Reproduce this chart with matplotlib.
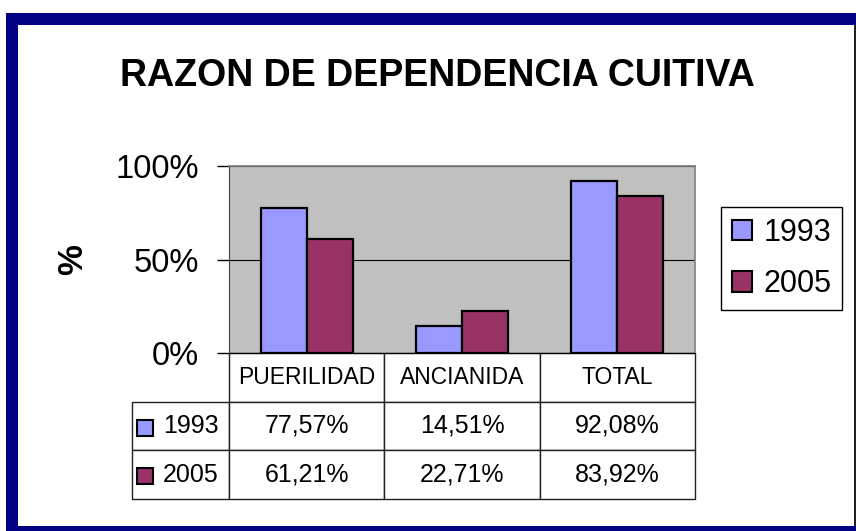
import matplotlib
matplotlib.use('Agg')
import matplotlib.pyplot as plt
from matplotlib.patches import Rectangle, Patch
import numpy as np

plt.rcParams['font.family'] = ['Liberation Sans', 'DejaVu Sans']

# data
categories = ['PUERILIDAD', 'ANCIANIDA', 'TOTAL']
years = ['1993', '2005']
values_1993 = [77.57, 14.51, 92.08]
values_2005 = [61.21, 22.71, 83.92]
y_ticks = [0, 50, 100]
y_tick_labels = ['0%', '50%', '100%']

colors = ['#9999FF', '#993366']
W, H = 856, 531

fig = plt.figure(figsize=(W / 100, H / 100), dpi=100)
fig.patch.set_facecolor('white')

def fx(px):
    return px / W

def fy(py):
    return 1 - py / H

# plot area in pixel coordinates
left, right, top, bottom = 229, 695, 166, 353
ax = fig.add_axes([fx(left), fy(bottom), fx(right - left), (bottom - top) / H])
ax.set_facecolor('#C0C0C0')

x = np.arange(len(categories))
bw = 0.296
ax.bar(x - bw / 2, values_1993, bw, color=colors[0], edgecolor='black', linewidth=1.6, zorder=3)
ax.bar(x + bw / 2, values_2005, bw, color=colors[1], edgecolor='black', linewidth=1.6, zorder=3)

ax.set_xlim(-0.5, len(categories) - 0.5)
ax.set_ylim(0, 100)
ax.set_yticks(y_ticks)
ax.set_yticklabels(y_tick_labels, fontsize=23.5)
ax.set_xticks([])
ax.tick_params(axis='y', length=8.6, width=1, pad=13, direction='out')
ax.yaxis.grid(True, color='black', linewidth=0.8, zorder=1)
ax.set_axisbelow(True)
for s in ['top', 'right']:
    ax.spines[s].set_color('#808080')
    ax.spines[s].set_linewidth(1.2)
ax.spines['left'].set_color('#404040')
ax.spines['bottom'].set_color('black')

fig.text(fx(73), fy(260), '%', rotation=90, fontsize=25, fontweight='bold',
         ha='center', va='center')

fig.text(fx(437), fy(76), 'RAZON DE DEPENDENCIA CUITIVA', fontsize=27,
         fontweight='bold', ha='center', va='center')

# data table
def fmt(v):
    return f'{v:.2f}%'.replace('.', ',')

cell_text = [[''] + categories,
             [years[0]] + [fmt(v) for v in values_1993],
             [years[1]] + [fmt(v) for v in values_2005]]
tab_left, tab_bottom = 132, 499
first_w = left - tab_left
cat_w = (right - left) / len(categories)
col_widths = [first_w] + [cat_w] * len(categories)
tbl = ax.table(cellText=cell_text, colWidths=col_widths, cellLoc='center',
               bbox=[(tab_left - left) / (right - left), -(tab_bottom - bottom) / (bottom - top),
                     (right - tab_left) / (right - left), (tab_bottom - bottom) / (bottom - top)])
tbl.auto_set_font_size(False)
tbl.set_fontsize(18)
for (r, c), cell in tbl.get_celld().items():
    cell.set_edgecolor('#202020')
    cell.set_linewidth(1)
    if r == 0 and c == 0:
        cell.visible_edges = ''
    if r == 0 and c > 0:
        cell.get_text().set_fontsize(16.5)
    if r > 0 and c == 0:
        cell.get_text().set_horizontalalignment('left')
        cell.PAD = 0.32

row_centers = [428, 476]
for i, yc in enumerate(row_centers):
    fig.add_artist(Rectangle((fx(137), fy(yc + 8)), 16 / W, 16 / H,
                             transform=fig.transFigure, facecolor=colors[i],
                             edgecolor='black', linewidth=1.5))

# legend
handles = [Patch(facecolor=colors[i], edgecolor='black', linewidth=1.5) for i in range(2)]
fig.legend(handles, years, loc='upper left', bbox_to_anchor=(fx(721), fy(207)),
           borderaxespad=0, fontsize=22, fancybox=False, edgecolor='black',
           framealpha=1, handlelength=0.65, handleheight=0.65, handletextpad=0.4,
           labelspacing=0.7, borderpad=0.35)

# navy frame
navy = '#000080'
fig.add_artist(Rectangle((fx(6), fy(25)), fx(W - 6), 12 / H, transform=fig.transFigure,
                         facecolor=navy, edgecolor='none'))
fig.add_artist(Rectangle((fx(6), 0), fx(12), fy(13), transform=fig.transFigure,
                         facecolor=navy, edgecolor='none'))
fig.add_artist(Rectangle((fx(6), 0), fx(W - 6), 5 / H, transform=fig.transFigure,
                         facecolor=navy, edgecolor='none'))
fig.add_artist(Rectangle((fx(854), fy(526)), fx(2), (526 - 25) / H, transform=fig.transFigure,
                         facecolor='#202020', edgecolor='none'))

fig.savefig('out.png', dpi=100)
